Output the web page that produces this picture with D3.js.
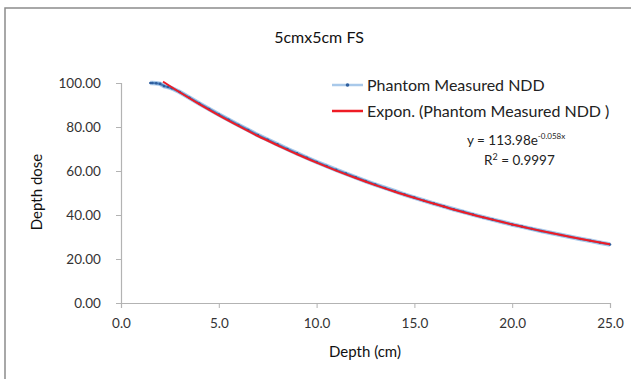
<!DOCTYPE html>
<html>
<head>
<meta charset="utf-8">
<script src="https://cdn.jsdelivr.net/npm/d3@7"></script>
<style>
  body { margin: 0; background: #fff; }
  svg { display: block; font-family: Lato, "Open Sans", sans-serif; }
</style>
</head>
<body>
<svg width="631" height="379"></svg>
<script>
// data
var measuredDepth = [1.5, 1.6, 1.8, 2.0, 2.2, 2.4, 2.6, 3.0, 3.5, 4.0, 4.5, 5.0, 5.5, 6.0, 6.5, 7.0, 7.5, 8.0,
  8.5, 9.0, 9.5, 10.0, 10.5, 11.0, 11.5, 12.0, 12.5, 13.0, 13.5, 14.0, 14.5, 15.0, 15.5, 16.0, 16.5,
  17.0, 17.5, 18.0, 18.5, 19.0, 19.5, 20.0, 20.5, 21.0, 21.5, 22.0, 22.5, 23.0, 23.5, 24.0, 24.5, 25.0];
var measuredDose = [100.0, 100.0, 99.9, 99.6, 98.6, 98.2, 97.6, 95.9, 93.3, 90.7, 88.2, 85.7, 83.3, 80.9, 78.6, 76.3, 74.2, 72.1,
  70.0, 68.0, 66.0, 64.1, 62.3, 60.5, 58.8, 57.1, 55.4, 53.8, 52.3, 50.8, 49.3, 47.9, 46.5, 45.2, 43.9,
  42.6, 41.4, 40.2, 39.0, 37.9, 36.8, 35.7, 34.7, 33.7, 32.7, 31.8, 30.9, 30.0, 29.1, 28.3, 27.4, 26.6];

// exponential trendline as drawn
var trendDepth = [2.15, 3, 4, 5, 6, 7, 8, 9, 10, 11, 12, 13, 14, 15, 16, 17, 18, 19, 20, 21, 22, 23, 24, 25];
var trendDose = [100.6, 95.8, 90.4, 85.3, 80.5, 75.9, 71.7, 67.6, 63.8, 60.2, 56.8, 53.6, 50.6, 47.8,
  45.1, 42.5, 40.1, 37.9, 35.7, 33.7, 31.8, 30.0, 28.3, 26.7];

var xTicks = [0, 5, 10, 15, 20, 25];
var yTicks = [0, 20, 40, 60, 80, 100];

var title = "5cmx5cm FS";
var seriesNames = ["Phantom Measured NDD", "Expon. (Phantom Measured NDD )"];

var svg = d3.select("svg");

// chart border
svg.append("rect")
  .attr("x", 5).attr("y", 8)
  .attr("width", 640).attr("height", 390)
  .attr("fill", "none")
  .attr("stroke", "#8c8c8c")
  .attr("stroke-width", 1.5);

var x = d3.scaleLinear().domain([0, 25]).range([121, 610]);
var y = d3.scaleLinear().domain([0, 100]).range([303, 83]);

// axes
var xAxis = svg.append("g")
  .attr("transform", "translate(0," + y(0) + ")")
  .call(d3.axisBottom(x).tickValues(xTicks).tickFormat(d3.format(".1f")).tickSizeOuter(0).tickSize(5));
var yAxis = svg.append("g")
  .attr("transform", "translate(" + x(0) + ",0)")
  .call(d3.axisLeft(y).tickValues(yTicks).tickFormat(d3.format(".2f")).tickSizeOuter(0).tickSize(5));

[xAxis, yAxis].forEach(function(a) {
  a.select(".domain").attr("stroke", "#b3b3b3").attr("stroke-width", 1.2);
  a.selectAll(".tick line").attr("stroke", "#b3b3b3");
  a.selectAll(".tick text").attr("fill", "#333").attr("font-size", 13.5)
    .attr("font-family", "Lato, sans-serif");
});
xAxis.selectAll(".tick text").attr("dy", "1.25em");
yAxis.selectAll(".tick text").attr("dx", "-0.9em");

// measured series
var measured = measuredDepth.map(function(d, i) { return [d, measuredDose[i]]; });
var trend = trendDepth.map(function(d, i) { return [d, trendDose[i]]; });

var line = d3.line()
  .x(function(d) { return x(d[0]); })
  .y(function(d) { return y(d[1]); });

svg.append("path")
  .datum(measured)
  .attr("fill", "none")
  .attr("stroke", "#a9c9ea")
  .attr("stroke-width", 4.5)
  .attr("d", line);
svg.append("path")
  .datum(measured)
  .attr("fill", "none")
  .attr("stroke", "#4a7ebb")
  .attr("stroke-width", 2.2)
  .attr("d", line);

svg.append("g").selectAll("circle")
  .data(measured)
  .enter().append("circle")
  .attr("cx", function(d) { return x(d[0]); })
  .attr("cy", function(d) { return y(d[1]); })
  .attr("r", 1.3)
  .attr("fill", "#2f5f9e");

// trendline
svg.append("path")
  .datum(trend)
  .attr("fill", "none")
  .attr("stroke", "#ee1c25")
  .attr("stroke-width", 2)
  .attr("d", line.curve(d3.curveMonotoneX));

// title
svg.append("text")
  .attr("x", 319).attr("y", 43)
  .attr("text-anchor", "middle")
  .attr("font-size", 16)
  .attr("fill", "#111")
  .text(title);

// axis titles
svg.append("text")
  .attr("x", 365).attr("y", 357)
  .attr("text-anchor", "middle")
  .attr("font-size", 15)
  .attr("fill", "#111")
  .text("Depth (cm)");
svg.append("text")
  .attr("transform", "translate(42,192) rotate(-90)")
  .attr("text-anchor", "middle")
  .attr("font-size", 15)
  .attr("fill", "#111")
  .text("Depth dose");

// legend
var legend = svg.append("g");
legend.append("line")
  .attr("x1", 332).attr("x2", 363).attr("y1", 85).attr("y2", 85)
  .attr("stroke", "#a9c9ea").attr("stroke-width", 2.5);
legend.append("circle")
  .attr("cx", 347.5).attr("cy", 85).attr("r", 1.8).attr("fill", "#2f5f9e");
legend.append("line")
  .attr("x1", 332).attr("x2", 363).attr("y1", 111).attr("y2", 111)
  .attr("stroke", "#ee1c25").attr("stroke-width", 2.5);
legend.selectAll("text.leg")
  .data(seriesNames)
  .enter().append("text")
  .attr("class", "leg")
  .attr("x", 367)
  .attr("y", function(d, i) { return 85 + i * 26; })
  .attr("dy", "0.35em")
  .attr("font-size", 16)
  .attr("fill", "#222")
  .text(function(d) { return d; });

// trendline equation
var eq = svg.append("text")
  .attr("x", 467).attr("y", 145)
  .attr("font-size", 13.5)
  .attr("fill", "#222");
eq.append("tspan").text("y = 113.98e");
eq.append("tspan").attr("dy", -6).attr("font-size", 8).text("-0.058x");

var r2 = svg.append("text")
  .attr("x", 484).attr("y", 165)
  .attr("font-size", 13.5)
  .attr("fill", "#222");
r2.append("tspan").text("R");
r2.append("tspan").attr("dy", -5).attr("font-size", 9).text("2");
r2.append("tspan").attr("dy", 5).text(" = 0.9997");
</script>
</body>
</html>
